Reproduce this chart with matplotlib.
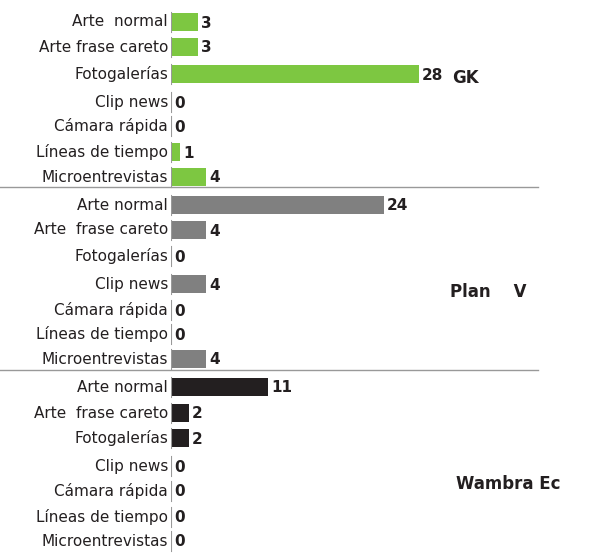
import matplotlib.pyplot as plt

categories = ['Arte  normal', 'Arte frase careto', 'Fotogalerías', 'Clip news',
              'Cámara rápida', 'Líneas de tiempo', 'Microentrevistas']
cats_plan = ['Arte normal', 'Arte  frase careto', 'Fotogalerías', 'Clip news',
             'Cámara rápida', 'Líneas de tiempo', 'Microentrevistas']
gk = [3, 3, 28, 0, 0, 1, 4]
plan_v = [24, 4, 0, 4, 0, 0, 4]
wambra = [11, 2, 2, 0, 0, 0, 0]
groups = ['GK', 'Plan    V', 'Wambra Ec']
colors = ['#7dc741', '#808080', '#231f20']

# row centres in pixels (top-down)
rows = [[22, 47, 74, 102, 126, 152, 177],
        [205, 230, 256, 284, 310, 334, 359],
        [387, 413, 438, 466, 491, 517, 541]]
group_pos = [(465, 78), (488, 292), (508, 484)]

fig = plt.figure(figsize=(5.9, 5.57), dpi=100)
ax = fig.add_axes([171 / 590, 0, 1 - 171 / 590, 1])
px = 8.86  # pixels per unit
ax.set_xlim(0, (590 - 171) / px)
ax.set_ylim(557, 0)
ax.axis('off')

for vals, cats, ys, col, name, (gx, gy) in zip(
        [gk, plan_v, wambra], [categories, cats_plan, cats_plan], rows, colors, groups, group_pos):
    ax.barh(ys, vals, height=18, color=col)
    for y, v, c in zip(ys, vals, cats):
        ax.plot([0, 0], [y - 10, y + 10], color='#999999', lw=0.8)
        ax.text(v + 0.35, y + 1, str(v), va='center', ha='left', fontsize=11,
                fontweight='bold', color='#231f20')
        ax.text(-0.35, y, c, va='center', ha='right', fontsize=11, color='#231f20',
                clip_on=False)
    ax.text((gx - 171) / px, gy, name, va='center', ha='center', fontsize=12,
            fontweight='bold', color='#231f20')

for y in [187, 370]:
    ax.plot([-20, (538 - 171) / px], [y, y], color='#999999', lw=1, clip_on=False)

plt.savefig('out.png', dpi=100)
